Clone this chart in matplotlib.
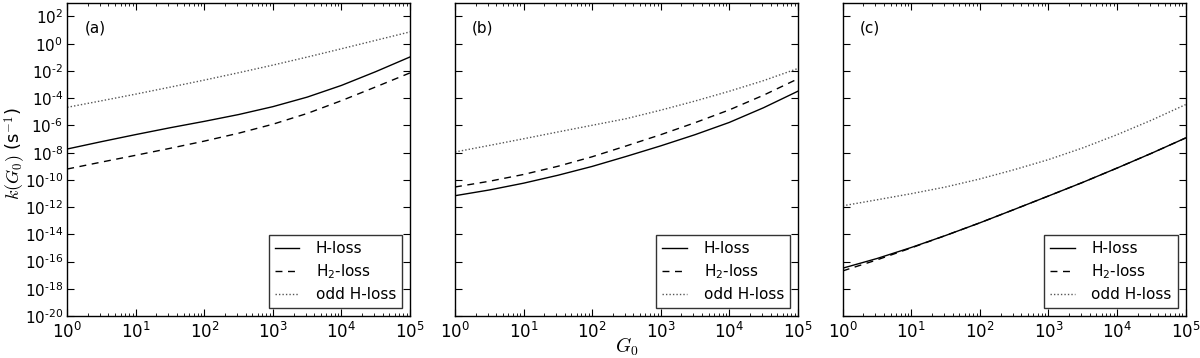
import numpy as np
import matplotlib
matplotlib.use("Agg")
import matplotlib.pyplot as plt
from matplotlib.ticker import LogLocator, NullLocator, FuncFormatter

# G0 sample points (half-decades)
g0 = [1, 3.162, 10, 31.62, 100, 316.2, 1000, 3162, 1e4, 3.162e4, 1e5]

# log10 k values
a_h = [-7.73, -7.19, -6.67, -6.17, -5.70, -5.20, -4.62, -3.92, -3.06, -2.05, -0.97]
a_h2 = [-9.20, -8.69, -8.19, -7.68, -7.15, -6.57, -5.91, -5.12, -4.18, -3.17, -2.14]
a_odd = [-4.67, -4.19, -3.70, -3.19, -2.67, -2.13, -1.57, -0.98, -0.37, 0.25, 0.87]

b_h = [-11.16, -10.74, -10.24, -9.66, -9.01, -8.27, -7.50, -6.68, -5.78, -4.70, -3.49]
b_h2 = [-10.52, -10.10, -9.60, -9.00, -8.30, -7.50, -6.68, -5.80, -4.86, -3.78, -2.58]
b_odd = [-7.95, -7.47, -6.98, -6.48, -5.99, -5.50, -4.88, -4.21, -3.49, -2.71, -1.82]

c_h = [-16.48, -15.77, -14.96, -14.08, -13.15, -12.17, -11.18, -10.18, -9.13, -8.05, -6.92]
c_h2 = [-16.68, -15.87, -14.99, -14.08, -13.15, -12.17, -11.18, -10.18, -9.13, -8.05, -6.92]
c_odd = [-11.90, -11.46, -11.01, -10.52, -9.93, -9.25, -8.51, -7.65, -6.68, -5.62, -4.47]

panels = ["(a)", "(b)", "(c)"]
series_labels = ["H-loss", "H$_2$-loss", "odd H-loss"]
data = [(a_h, a_h2, a_odd), (b_h, b_h2, b_odd), (c_h, c_h2, c_odd)]


def yfmt(v, pos):
    e = int(round(np.log10(v)))
    if e < 0:
        return "$\\mathdefault{10^{\\text{-%d}}}$" % (-e)
    return "$\\mathdefault{10^{%d}}$" % e


fig, axes = plt.subplots(1, 3, figsize=(12, 3.58), dpi=100, sharey=True)
fig.subplots_adjust(left=0.056, right=0.988, top=0.992, bottom=0.117, wspace=0.131)

styles = [dict(color="black", ls="-", lw=1.0),
          dict(color="black", ls=(0, (5, 4)), lw=1.0),
          dict(color="#555555", ls=(0, (1, 1.5)), lw=1.0)]

for ax, lab, ser in zip(axes, panels, data):
    for vals, st, sl in zip(ser, styles, series_labels):
        ax.plot(g0, 10 ** np.array(vals), label=sl, **st)
    ax.set_xscale("log")
    ax.set_yscale("log")
    ax.set_xlim(1, 1e5)
    ax.set_ylim(1e-20, 1e3)
    ax.yaxis.set_major_locator(LogLocator(base=100.0, numticks=20))
    ax.yaxis.set_major_formatter(FuncFormatter(yfmt))
    ax.yaxis.set_minor_locator(NullLocator())
    ax.xaxis.set_major_locator(LogLocator(base=10.0, numticks=10))
    ax.xaxis.set_minor_locator(LogLocator(base=10.0, subs=np.arange(2, 10), numticks=20))
    ax.tick_params(which="both", direction="in", top=True, right=True)
    ax.tick_params(which="major", length=5)
    ax.tick_params(axis="x", which="major", labelsize=12, pad=4)
    ax.tick_params(axis="y", which="major", labelsize=11, pad=3)
    ax.tick_params(which="minor", length=2.5)
    ax.text(0.05, 0.92, lab, transform=ax.transAxes, fontsize=11, va="center")
    leg = ax.legend(loc="lower right", fontsize=11, frameon=True, fancybox=False,
                    handlelength=1.6, borderaxespad=0.5, labelspacing=0.4,
                    handletextpad=1.1, borderpad=0.4)
    leg.get_frame().set_edgecolor("black")
    leg.get_frame().set_linewidth(1.0)
    for sp in ax.spines.values():
        sp.set_linewidth(1.0)

fig.text(0.013, 0.57, "$k(G_0)$ (s$^{-1}$)", fontsize=13, math_fontfamily="cm",
         rotation=90, ha="center", va="center")
fig.text(0.5225, 0.03, "$G_0$", fontsize=14, math_fontfamily="cm", ha="center", va="center")

fig.savefig("out.png", dpi=100)
